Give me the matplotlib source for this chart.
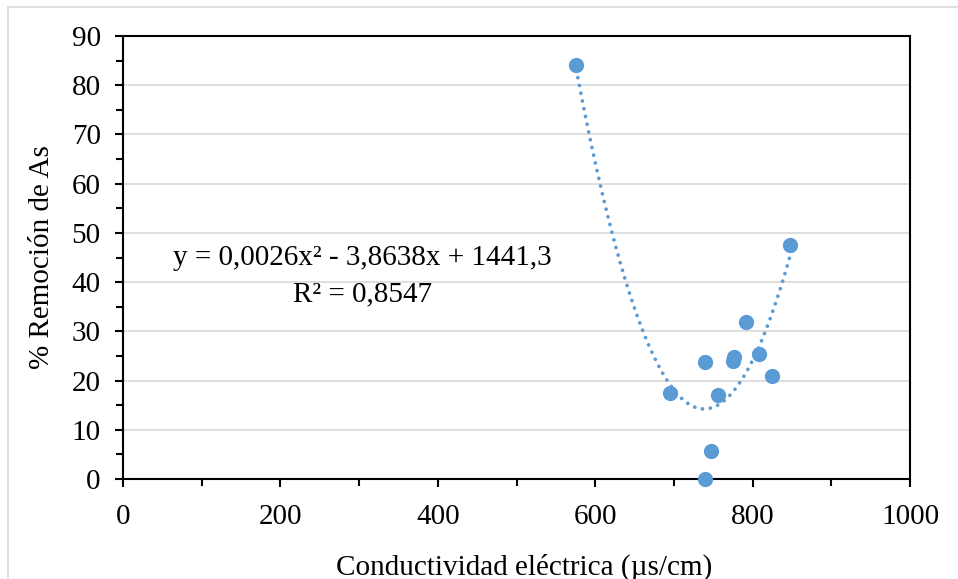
import numpy as np
import matplotlib
matplotlib.use('Agg')
import matplotlib.pyplot as plt
from matplotlib.patches import Rectangle
from matplotlib.ticker import MultipleLocator

# conductividad (us/cm) vs % remocion de As
conductividad = [576, 695, 739, 747, 739, 756, 775, 776, 791, 808, 824, 847]
remocion = [84.1, 17.5, 23.8, 5.7, 0.0, 17.1, 24.0, 24.8, 31.8, 25.3, 21.0, 47.5]

x_ticks = [0, 200, 400, 600, 800, 1000]
y_ticks = [0, 10, 20, 30, 40, 50, 60, 70, 80, 90]

ecuacion = 'y = 0,0026x² - 3,8638x + 1441,3'
r2_texto = 'R² = 0,8547'

azul = '#5B9BD5'

plt.rcParams['font.family'] = ['Liberation Serif', 'DejaVu Serif']

fig = plt.figure(figsize=(9.58, 5.79), dpi=100)
ax = fig.add_axes([0.1284, 0.1727, 0.950 - 0.1284, 0.9378 - 0.1727])

# marco gris del grafico
fig.patches.append(Rectangle((8 / 958, -0.05), 1.2, 1 - 7 / 579 + 0.05,
                             transform=fig.transFigure, fill=False,
                             edgecolor='#D9D9D9', linewidth=1.2))

# linea de tendencia polinomica
coef = np.polyfit(conductividad, remocion, 2)
xs = np.linspace(min(conductividad), max(conductividad), 300)
ax.plot(xs, np.polyval(coef, xs), color=azul, linestyle=(0, (0.01, 2.1)),
        linewidth=2.7, dash_capstyle='round', zorder=2)

ax.plot(conductividad, remocion, 'o', color=azul, markersize=11,
        markeredgewidth=0, zorder=3, clip_on=False)

ax.set_xlim(0, 1000)
ax.set_ylim(0, 90)
ax.set_xticks(x_ticks)
ax.set_yticks(y_ticks)
ax.xaxis.set_minor_locator(MultipleLocator(100))
ax.yaxis.set_minor_locator(MultipleLocator(5))
ax.tick_params(which='major', length=6, width=1.5, labelsize=21, direction='out')
ax.tick_params(axis='x', which='major', pad=12)
ax.tick_params(axis='y', which='major', pad=10)
ax.tick_params(which='minor', length=5, width=1.5, direction='out')
ax.grid(axis='y', color='#D9D9D9', linewidth=1.2)
ax.set_axisbelow(True)
for s in ax.spines.values():
    s.set_linewidth(1.5)

ax.set_xlabel('Conductividad eléctrica (µs/cm)', fontsize=21)
ax.xaxis.set_label_coords(0.51, -0.168)
ax.set_ylabel('% Remoción de As', fontsize=21, labelpad=12)

ax.text(304, 45, ecuacion, fontsize=21, ha='center', va='center')
ax.text(304, 37.5, r2_texto, fontsize=21, ha='center', va='center')

fig.savefig('out.png', dpi=100)
